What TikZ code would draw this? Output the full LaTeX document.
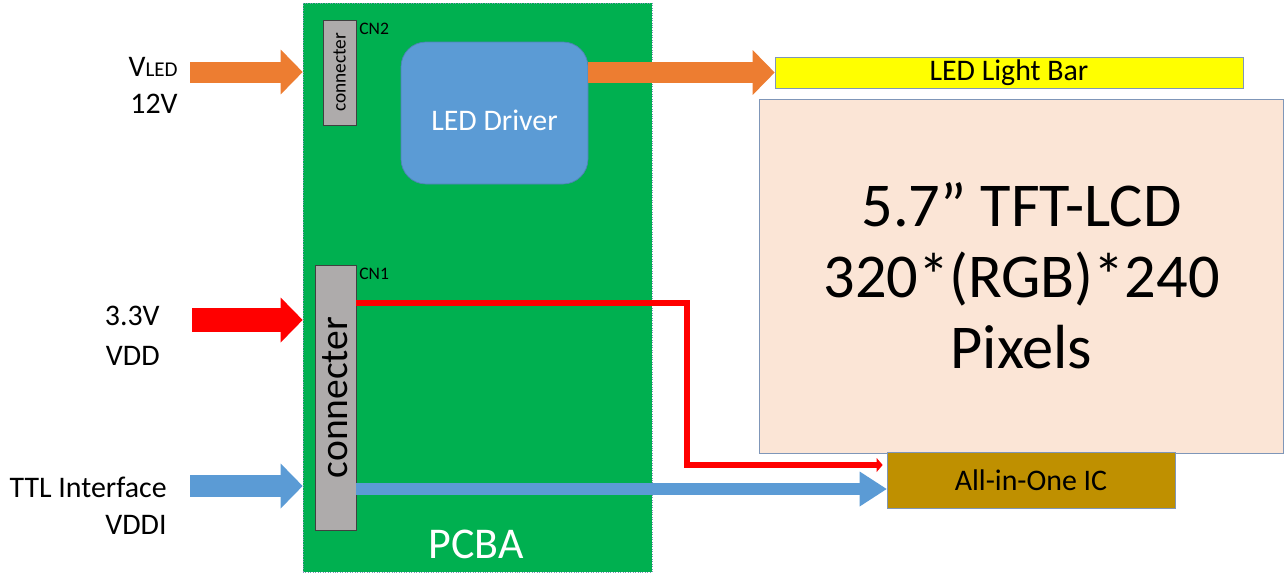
\documentclass[tikz,border=0pt]{standalone}
\usepackage{fontspec}
\setmainfont{Carlito}
\usepackage{xcolor}
\usepackage{graphicx}
\usetikzlibrary{arrows.meta, positioning}
\definecolor{pcbgreen}{HTML}{00B050}
\definecolor{driverblue}{HTML}{5B9BD5}
\definecolor{ledorange}{HTML}{ED7D31}
\definecolor{conngray}{HTML}{AEABAB}
\definecolor{panelpeach}{HTML}{FBE5D6}
\definecolor{icgold}{HTML}{BF9000}
\definecolor{baryellow}{HTML}{FFFF00}
\definecolor{frameblue}{HTML}{7F96B8}
\newcommand{\px}{0.02cm}

\begin{document}
\begin{tikzpicture}[
  x=0.02cm, y=-0.02cm,
  board/.style={rectangle, draw=frameblue, densely dotted, fill=pcbgreen, inner sep=0pt},
  conn/.style={rectangle, draw=black!75, fill=conngray, inner sep=0pt},
  cnlabel/.style={font=\fontsize{10}{12}\selectfont, inner sep=1.5pt, anchor=north west},
  block/.style={rectangle, draw=frameblue, inner sep=0pt, align=center},
  sidelabel/.style={font=\fontsize{17}{21}\selectfont, align=right, anchor=east, inner sep=0pt},
  fatarrow/.style={-{Triangle[length=0.44cm, width=0.9cm, line width=0pt]}, line width=0.42cm},
  feedline/.style={-{Triangle[length=0.12cm, width=0.28cm, line width=0pt]}, line width=0.12cm, red},
  busarrow/.style={-{Triangle[length=0.54cm, width=0.7cm, line width=0pt]}, line width=0.24cm, driverblue},
]
  \useasboundingbox (0,0) rectangle (1285,575);

  % board and parts
  \node[board, minimum width=349*\px, minimum height=569*\px] (pcba) at (477.5,287.5) {};
  \node[text=white, font=\fontsize{25}{30}\selectfont] (pcbaname) at (476,544) {PCBA};
  \node[conn, minimum width=33*\px, minimum height=105*\px] (cn2) at (339.5,72.5)
    {\rotatebox{90}{\fontsize{11}{13}\selectfont connecter}};
  \node[cnlabel] (cn2name) at (cn2.north east) {CN2};
  \node[conn, minimum width=41*\px, minimum height=265*\px] (cn1) at (335.5,397.5)
    {\rotatebox{90}{\fontsize{22.5}{26}\selectfont connecter}};
  \node[cnlabel] (cn1name) at (cn1.north east) {CN1};
  \node[rectangle, rounded corners=0.5cm, fill=driverblue, draw=driverblue!85!black, text=white,
    minimum width=187*\px, minimum height=142*\px, font=\fontsize{17}{21}\selectfont] (driver) at (494.5,113)
    {\raisebox{-0.14cm}[\height][\depth]{LED Driver}};

  % panel side
  \node[block, fill=baryellow, minimum width=468*\px, minimum height=31*\px,
    font=\fontsize{17}{21}\selectfont] (bar) at (1009,72.5) {LED Light Bar};
  \node[block, fill=panelpeach, minimum width=524*\px, minimum height=354*\px,
    font=\fontsize{35.5}{40.5}\selectfont] (lcd) at (1021.5,276) {5.7” TFT-LCD\\320*(RGB)*240\\Pixels};
  \node[block, fill=icgold, minimum width=288*\px, minimum height=56*\px,
    font=\fontsize{17}{21}\selectfont] (ic) at (1031,480) {All-in-One IC};

  % inputs
  \node[sidelabel] (vled) at (178,85) {V{\fontsize{12}{14}\selectfont LED}\\12V};
  \node[sidelabel, font=\fontsize{17}{23}\selectfont] (vdd) at (160,336) {3.3V\\VDD};
  \node[sidelabel] (ttl) at (167,506) {TTL Interface\\VDDI};
  \coordinate (vledin) at (190,72);
  \coordinate (vddin) at (192,320);
  \coordinate (ttlin) at (190,486);
  \coordinate (redrun) at (687,303);
  \coordinate (redbend) at (687,465);
  \coordinate (busrow) at (700,489);

  \draw[fatarrow, ledorange] (vledin) -- (pcba.west |- vledin);
  \draw[fatarrow, ledorange] (driver.east |- bar.west) -- (bar.west);
  \draw[fatarrow, red, line width=0.48cm] (vddin) -- (pcba.west |- vddin);
  \draw[fatarrow, driverblue, line width=0.44cm] (ttlin) -- (pcba.west |- ttlin);
  \draw[feedline] (cn1.east |- redrun) -- (redrun) -- (redbend) -- ([xshift=-0.08cm]ic.west |- redbend);
  \draw[busarrow] (cn1.east |- busrow) -- (ic.west |- busrow);

\end{tikzpicture}
\end{document}
